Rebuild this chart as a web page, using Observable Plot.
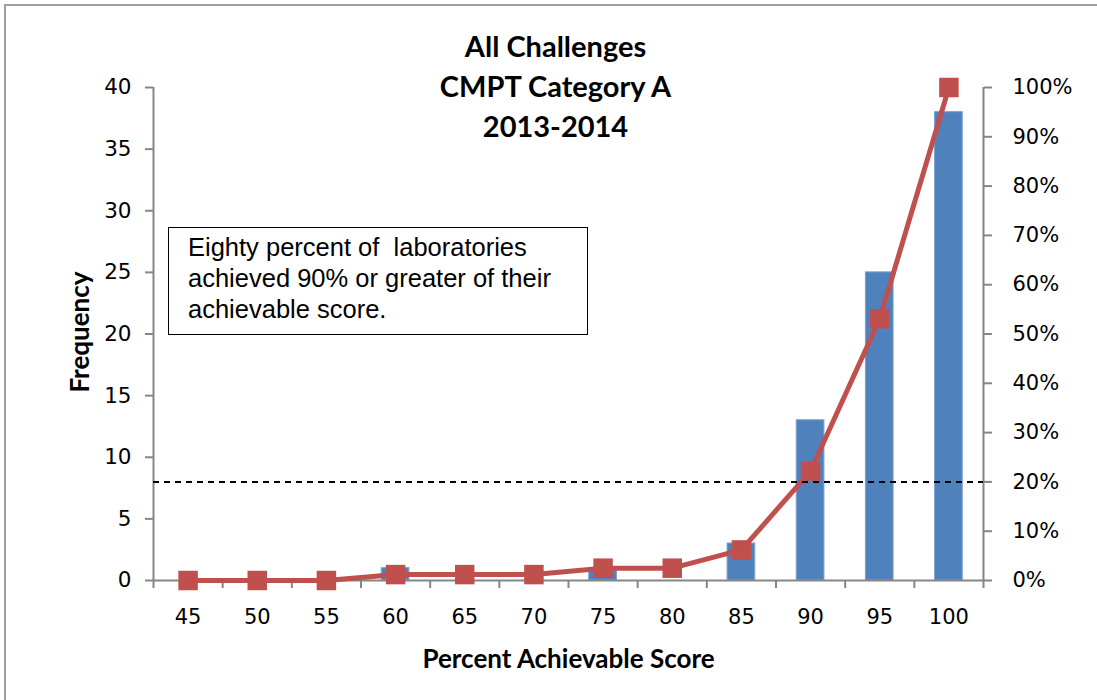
<!DOCTYPE html>
<html>
<head>
<meta charset="utf-8">
<script src="https://cdn.jsdelivr.net/npm/d3@7"></script>
<script src="https://cdn.jsdelivr.net/npm/@observablehq/plot@0.6"></script>
<style>
  html, body { margin: 0; padding: 0; background: #fff; width: 1097px; height: 700px; overflow: hidden; }
  #wrap { position: relative; width: 1097px; height: 700px; }
  #frame { position: absolute; left: 4px; top: 4px; width: 1200px; height: 800px; border: 2px solid #a0a0a0; box-sizing: border-box; }
  #note { position: absolute; left: 168px; top: 227px; width: 420px; height: 108px; box-sizing: border-box;
          border: 1.5px solid #000; background: #fff; font-family: "Liberation Sans", Arial, sans-serif;
          font-size: 25.5px; line-height: 31px; padding: 4px 0 0 19px; white-space: pre; color: #000; }
  #chart { position: absolute; left: 0; top: 0; }
</style>
</head>
<body>
<div id="wrap">
  <div id="frame"></div>
  <div id="chart"></div>
  <div id="note"></div>
</div>
<script>
// ---- data ----
const titleLines = ["All Challenges", "CMPT Category A", "2013-2014"];
const xTitle = "Percent Achievable Score";
const yTitle = "Frequency";
const noteText = "Eighty percent of  laboratories\nachieved 90% or greater of their\nachievable score.";
const categories = [45, 50, 55, 60, 65, 70, 75, 80, 85, 90, 95, 100];
const frequency = [0, 0, 0, 1, 0, 0, 1, 0, 3, 13, 25, 38];
const cumulativePct = [0, 0, 0, 1.2, 1.2, 1.2, 2.5, 2.5, 6.2, 22.2, 53.1, 100];
const yTicks = [0, 5, 10, 15, 20, 25, 30, 35, 40];
const pctTicks = [0, 10, 20, 30, 40, 50, 60, 70, 80, 90, 100];
const thresholdPct = 20;

const yMax = 40, pMax = 100;
const toY = p => p * yMax / pMax;
const step = categories[1] - categories[0];
const xDomain = [categories[0] - step / 2, categories[categories.length - 1] + step / 2];
const bounds = categories.map(c => c - step / 2).concat([xDomain[1]]);
const barHalf = step * 0.2;

const data = categories.map((c, i) => ({score: c, freq: frequency[i], cum: cumulativePct[i]}));

document.getElementById("note").textContent = noteText;

const axisGray = "#868686";
const red = "#C0504D";
const blue = "#4F81BD";
const tickFont = "'DejaVu Sans', Verdana, sans-serif";

const chart = Plot.plot({
  width: 1097,
  height: 700,
  marginLeft: 153,
  marginRight: 114,
  marginTop: 87,
  marginBottom: 120,
  style: {fontFamily: "Lato, sans-serif", fontSize: "21px", color: "#000", background: "transparent", overflow: "visible"},
  x: {type: "linear", domain: xDomain},
  y: {domain: [0, yMax]},
  marks: [
    Plot.rectY(data, {x1: d => d.score - barHalf, x2: d => d.score + barHalf, y1: 0, y2: "freq", fill: blue, stroke: "#7aa0cf", strokeWidth: 1}),
    Plot.ruleX([xDomain[0], xDomain[1]], {y1: 0, y2: yMax, stroke: axisGray, strokeWidth: 2}),
    Plot.ruleY([0], {x1: xDomain[0], x2: xDomain[1], stroke: axisGray, strokeWidth: 2}),
    Plot.axisX({ticks: bounds, tickSize: 8, tickFormat: () => "", stroke: axisGray, strokeWidth: 2, label: null}),
    Plot.axisX({ticks: categories, tickSize: 0, tickPadding: 29, fontSize: 21, fontFamily: tickFont, fill: "#000", label: null}),
    Plot.axisY({ticks: yTicks, anchor: "left", tickSize: 8, tickPadding: 14, stroke: axisGray, strokeWidth: 2, fill: "#000", fontSize: 21.5, fontFamily: tickFont, label: null}),
    Plot.axisY({ticks: pctTicks.map(toY), anchor: "right", tickSize: 8, tickPadding: 21, stroke: axisGray, strokeWidth: 2, fill: "#000", fontSize: 21, fontFamily: tickFont,
      tickFormat: d => Math.round(d * pMax / yMax) + "%", label: null}),
    Plot.line(data, {x: "score", y: d => toY(d.cum), stroke: red, strokeWidth: 5}),
    Plot.dot(data, {x: "score", y: d => toY(d.cum), symbol: "square", r: 11, fill: red, stroke: "none"}),
    Plot.ruleY([toY(thresholdPct)], {x1: xDomain[0], x2: xDomain[1], stroke: "#000", strokeWidth: 2, strokeDasharray: "6,5"}),
    Plot.text([titleLines.join("\n")], {frameAnchor: "top", dx: -13, dy: -3, lineAnchor: "middle", lineHeight: 1.38, fontSize: 29, fontWeight: "bold", fill: "#000"}),
    Plot.text([xTitle], {frameAnchor: "bottom", dy: 87, fontSize: 26, fontWeight: "bold", fill: "#000"}),
    Plot.text([yTitle], {frameAnchor: "left", textAnchor: "middle", dx: -73, dy: -2, rotate: -90, fontSize: 26, fontWeight: "bold", fill: "#000"})
  ]
});
document.getElementById("chart").appendChild(chart);
</script>
</body>
</html>
